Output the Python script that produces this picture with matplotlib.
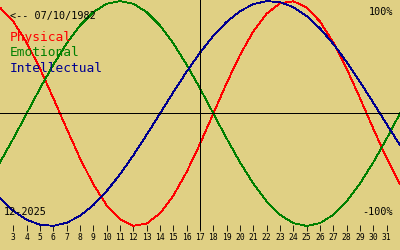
import matplotlib
matplotlib.use("Agg")
import matplotlib.pyplot as plt

# biorhythm values (%) for December 2025 per day
days = list(range(1, 33))
physical = [99.8, 94.2, 81.7, 63.1, 39.8, 13.6, -13.6, -39.8, -63.1, -81.7,
            -94.2, -99.8, -97.9, -88.8, -73.1, -52.0, -27.0, 0.0, 27.0, 52.0,
            73.1, 88.8, 97.9, 99.8, 94.2, 81.7, 63.1, 39.8, 13.6, -13.6,
            -39.8, -63.1]
emotional = [-62.3, -43.4, -22.3, 0.0, 22.3, 43.4, 62.3, 78.2, 90.1, 97.5,
             100.0, 97.5, 90.1, 78.2, 62.3, 43.4, 22.3, 0.0, -22.3, -43.4,
             -62.3, -78.2, -90.1, -97.5, -100.0, -97.5, -90.1, -78.2, -62.3, -43.4,
             -22.3, 0.0]
intellectual = [-61.8, -75.6, -86.6, -94.5, -99.0, -99.9, -97.2, -91.0, -81.5, -69.0,
                -54.1, -37.2, -18.9, 0.0, 18.9, 37.2, 54.1, 69.0, 81.5, 91.0,
                97.2, 99.9, 99.0, 94.5, 86.6, 75.6, 61.8, 45.8, 28.2, 9.5,
                -9.5, -28.2]
tick_days = list(range(3, 32))
today = 17
birth = "07/10/1982"
month = "12-2025"

bg = "#e0d084"
red = "#ff0000"
green = "#008000"
blue = "#000090"
mono = "DejaVu Sans Mono"

fig = plt.figure(figsize=(4, 2.5), dpi=100, facecolor=bg)
ax = fig.add_axes([0, 0, 1, 1], facecolor=bg)

ax.plot(days, physical, color=red, lw=0.6, antialiased=False)
ax.plot(days, emotional, color=green, lw=0.6, antialiased=False)
ax.plot(days, intellectual, color=blue, lw=0.6, antialiased=False)

ax.set_xlim(2, 32)
ax.set_ylim(-121.4, 100.9)

# cross lines: zero line and today
ax.axhline(0, color="black", lw=0.6, antialiased=False)
ax.vlines(today, -102.5, 100.9, color="black", lw=0.6, antialiased=False)

for s in ["top", "left", "right"]:
    ax.spines[s].set_visible(False)
ax.spines["bottom"].set_position(("data", -101.5))
ax.spines["bottom"].set_visible(False)
ax.set_yticks([])
ax.set_xticks(tick_days)
ax.set_xticklabels([str(d) for d in tick_days], family=mono, fontsize=5.8)
ax.tick_params(axis="x", direction="inout", length=4.5, width=0.6, pad=1.8, colors="black")

ax.text(0.025, 0.936, "<-- " + birth, transform=ax.transAxes, family=mono,
        fontsize=7.3, va="center", ha="left")
ax.text(0.025, 0.848, "Physical", transform=ax.transAxes, family=mono,
        fontsize=9.3, va="center", ha="left", color=red)
ax.text(0.025, 0.788, "Emotional", transform=ax.transAxes, family=mono,
        fontsize=9.3, va="center", ha="left", color=green)
ax.text(0.025, 0.728, "Intellectual", transform=ax.transAxes, family=mono,
        fontsize=9.3, va="center", ha="left", color=blue)
ax.text(0.983, 0.952, "100%", transform=ax.transAxes, family=mono,
        fontsize=7.3, va="center", ha="right")
ax.text(0.983, 0.152, "-100%", transform=ax.transAxes, family=mono,
        fontsize=7.3, va="center", ha="right")
ax.text(0.01, 0.152, month, transform=ax.transAxes, family=mono,
        fontsize=7.3, va="center", ha="left")

fig.savefig("out.png", dpi=100, facecolor=bg)
